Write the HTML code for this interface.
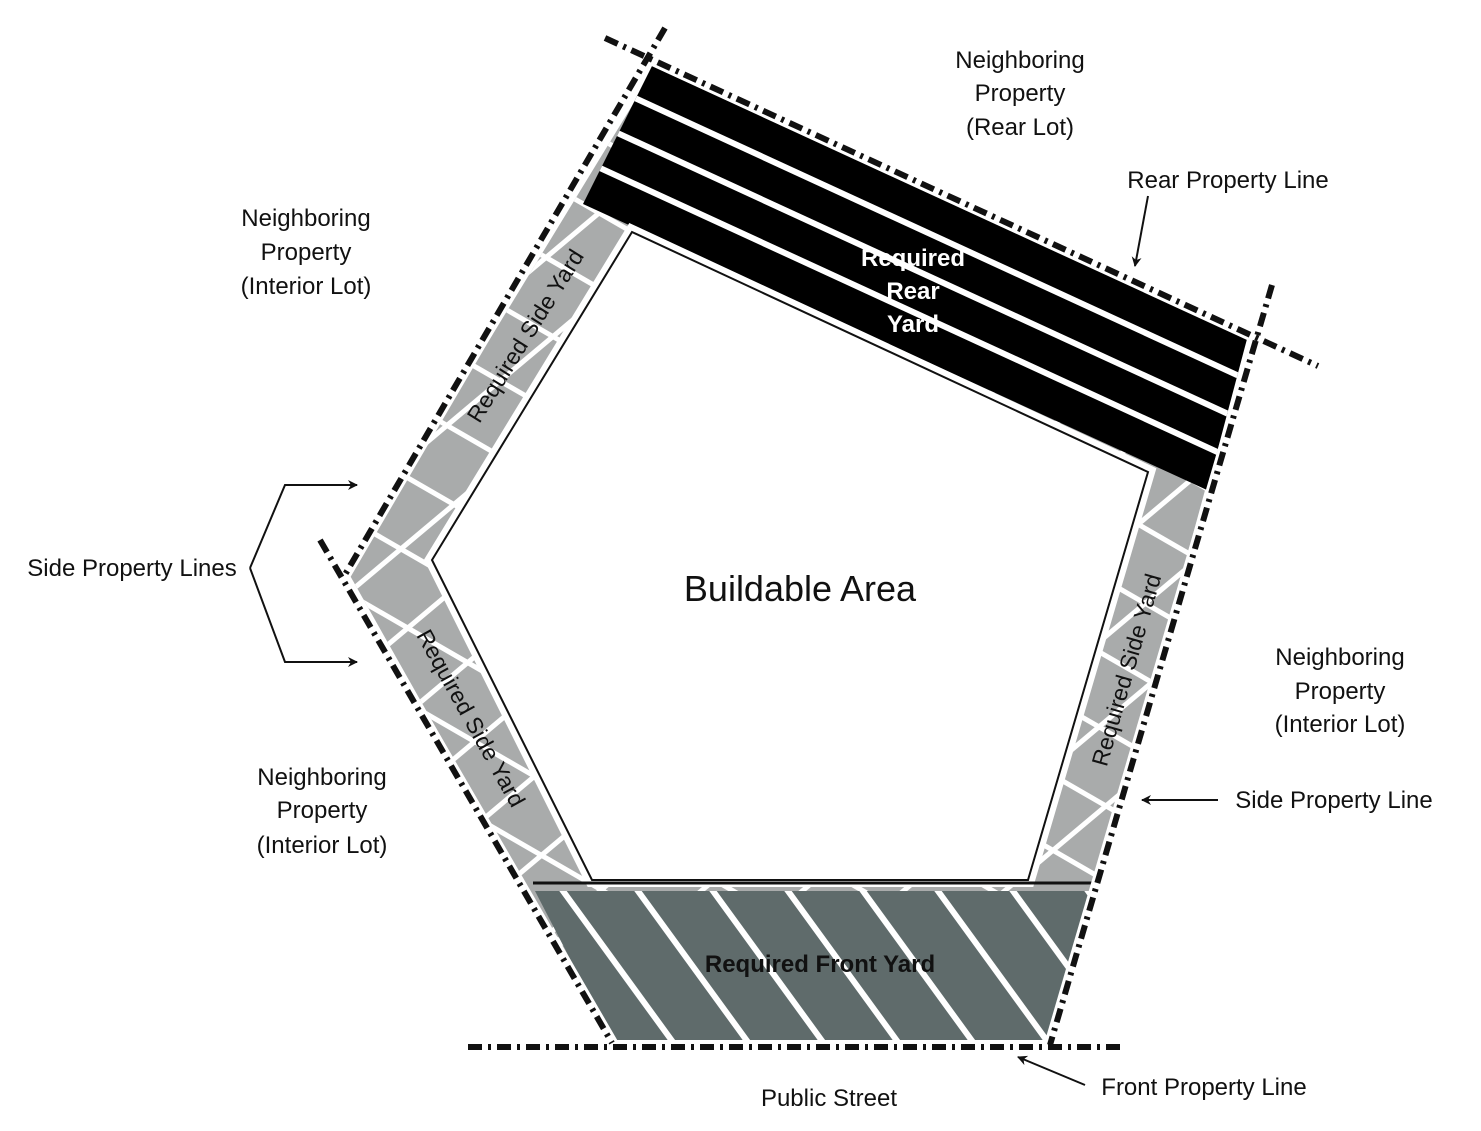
<!DOCTYPE html>
<html><head><meta charset="utf-8"><style>
html,body{margin:0;padding:0;background:#fff;overflow:hidden;width:1481px;height:1131px}
svg{display:block;position:absolute;left:0;top:0}
text{font-family:"Liberation Sans",sans-serif;fill:#111}
</style></head><body>
<svg width="1481" height="1131" viewBox="0 0 1481 1131" xmlns="http://www.w3.org/2000/svg">
<defs>
<clipPath id="lot"><polygon points="655,68 1246,340 1055,1040 612,1040 348,572"/></clipPath>
<clipPath id="rear"><polygon points="652,66 1247,339 1207,490 583,204"/></clipPath>
<clipPath id="front"><polygon points="535,891 1090,891 1050,1040 612,1040"/></clipPath>
<marker id="ah" markerWidth="10" markerHeight="10" refX="9" refY="5" orient="auto" markerUnits="userSpaceOnUse"><path d="M0,0 L10,5 L0,10 L3,5 z" fill="#111"/></marker>
</defs>

<g clip-path="url(#lot)">
<rect x="300" y="0" width="1000" height="1100" fill="#a9abab"/>
<g stroke="#fff" stroke-width="5">
<g transform="rotate(30 800 560)">
<line x1="0" y1="100" x2="1600" y2="100"/><line x1="0" y1="165" x2="1600" y2="165"/><line x1="0" y1="230" x2="1600" y2="230"/><line x1="0" y1="295" x2="1600" y2="295"/><line x1="0" y1="360" x2="1600" y2="360"/><line x1="0" y1="425" x2="1600" y2="425"/><line x1="0" y1="490" x2="1600" y2="490"/><line x1="0" y1="555" x2="1600" y2="555"/><line x1="0" y1="620" x2="1600" y2="620"/><line x1="0" y1="685" x2="1600" y2="685"/><line x1="0" y1="750" x2="1600" y2="750"/><line x1="0" y1="815" x2="1600" y2="815"/><line x1="0" y1="880" x2="1600" y2="880"/><line x1="0" y1="945" x2="1600" y2="945"/><line x1="0" y1="1010" x2="1600" y2="1010"/>
</g>
<g transform="rotate(-40 800 560)">
<line x1="0" y1="100" x2="1600" y2="100"/><line x1="0" y1="165" x2="1600" y2="165"/><line x1="0" y1="230" x2="1600" y2="230"/><line x1="0" y1="295" x2="1600" y2="295"/><line x1="0" y1="360" x2="1600" y2="360"/><line x1="0" y1="425" x2="1600" y2="425"/><line x1="0" y1="490" x2="1600" y2="490"/><line x1="0" y1="555" x2="1600" y2="555"/><line x1="0" y1="620" x2="1600" y2="620"/><line x1="0" y1="685" x2="1600" y2="685"/><line x1="0" y1="750" x2="1600" y2="750"/><line x1="0" y1="815" x2="1600" y2="815"/><line x1="0" y1="880" x2="1600" y2="880"/><line x1="0" y1="945" x2="1600" y2="945"/><line x1="0" y1="1010" x2="1600" y2="1010"/>
</g>
</g>
</g>

<g clip-path="url(#rear)">
<rect x="550" y="30" width="720" height="480" fill="#000"/>
<g stroke="#fff" stroke-width="6">
<line x1="500" y1="36" x2="1300" y2="404"/>
<line x1="500" y1="79" x2="1300" y2="447"/>
<line x1="500" y1="122" x2="1300" y2="490"/>
</g>
</g>

<g clip-path="url(#front)">
<rect x="520" y="885" width="600" height="160" fill="#5f6b6b"/>
<g stroke="#fff" stroke-width="6">
<line x1="480" y1="880" x2="600" y2="1045"/><line x1="555" y1="880" x2="675" y2="1045"/><line x1="630" y1="880" x2="750" y2="1045"/><line x1="705" y1="880" x2="825" y2="1045"/><line x1="780" y1="880" x2="900" y2="1045"/><line x1="855" y1="880" x2="975" y2="1045"/><line x1="930" y1="880" x2="1050" y2="1045"/><line x1="1005" y1="880" x2="1125" y2="1045"/><line x1="1080" y1="880" x2="1200" y2="1045"/>
</g>
</g>

<polygon points="632,232 1148,472 1028,880 592,880 432,560" fill="#fff" stroke="#fff" stroke-width="14" stroke-linejoin="miter"/>
<polygon points="632,232 1148,472 1028,880 592,880 432,560" fill="#fff" stroke="#111" stroke-width="2"/>
<line x1="533" y1="883" x2="1092" y2="883" stroke="#111" stroke-width="3"/>

<g fill="none" stroke-linecap="butt">
<g stroke="#fff" stroke-width="12">
<line x1="605" y1="38" x2="1318" y2="366"/>
<line x1="665" y1="28" x2="343" y2="578"/>
<line x1="320" y1="540" x2="612" y2="1043"/>
<line x1="1272" y1="285" x2="1050" y2="1045"/>
<line x1="468" y1="1047" x2="1120" y2="1047"/>
</g>
<g stroke="#111" stroke-width="6" stroke-dasharray="14 6 3 6">
<line x1="605" y1="38" x2="1318" y2="366"/>
<line x1="665" y1="28" x2="343" y2="578"/>
<line x1="320" y1="540" x2="612" y2="1043"/>
<line x1="1272" y1="285" x2="1050" y2="1045"/>
<line x1="468" y1="1047" x2="1120" y2="1047"/>
</g>
</g>

<g stroke="#111" stroke-width="2" fill="none">
<path d="M250,568 L285,485 L357,485" marker-end="url(#ah)"/>
<path d="M250,568 L285,662 L357,662" marker-end="url(#ah)"/>
<path d="M1148,196 L1135,266" marker-end="url(#ah)"/>
<path d="M1218,800 L1142,800" marker-end="url(#ah)"/>
<path d="M1085,1085 L1018,1057" marker-end="url(#ah)"/>
</g>

<g font-size="24" text-anchor="middle">
<text x="1020" y="68">Neighboring</text>
<text x="1020" y="101">Property</text>
<text x="1020" y="135">(Rear Lot)</text>
<text x="1228" y="188">Rear Property Line</text>
<text x="306" y="226">Neighboring</text>
<text x="306" y="260">Property</text>
<text x="306" y="294">(Interior Lot)</text>
<text x="132" y="576">Side Property Lines</text>
<text x="322" y="785">Neighboring</text>
<text x="322" y="818">Property</text>
<text x="322" y="853">(Interior Lot)</text>
<text x="1340" y="665">Neighboring</text>
<text x="1340" y="699">Property</text>
<text x="1340" y="732">(Interior Lot)</text>
<text x="1334" y="808">Side Property Line</text>
<text x="1204" y="1095">Front Property Line</text>
<text x="829" y="1106">Public Street</text>
<text x="800" y="601" font-size="36">Buildable Area</text>
<text x="913" y="266" font-weight="bold" style="fill:#fff">Required</text>
<text x="913" y="299" font-weight="bold" style="fill:#fff">Rear</text>
<text x="913" y="332" font-weight="bold" style="fill:#fff">Yard</text>
<text x="820" y="972" font-weight="bold">Required Front Yard</text>
<text x="0" y="0" font-size="23" transform="translate(532,340) rotate(-58)">Required Side Yard</text>
<text x="0" y="0" font-size="23" transform="translate(464,722) rotate(61)">Required Side Yard</text>
<text x="0" y="0" font-size="23" transform="translate(1134,672) rotate(-74)">Required Side Yard</text>
</g>
</svg>
</body></html>
